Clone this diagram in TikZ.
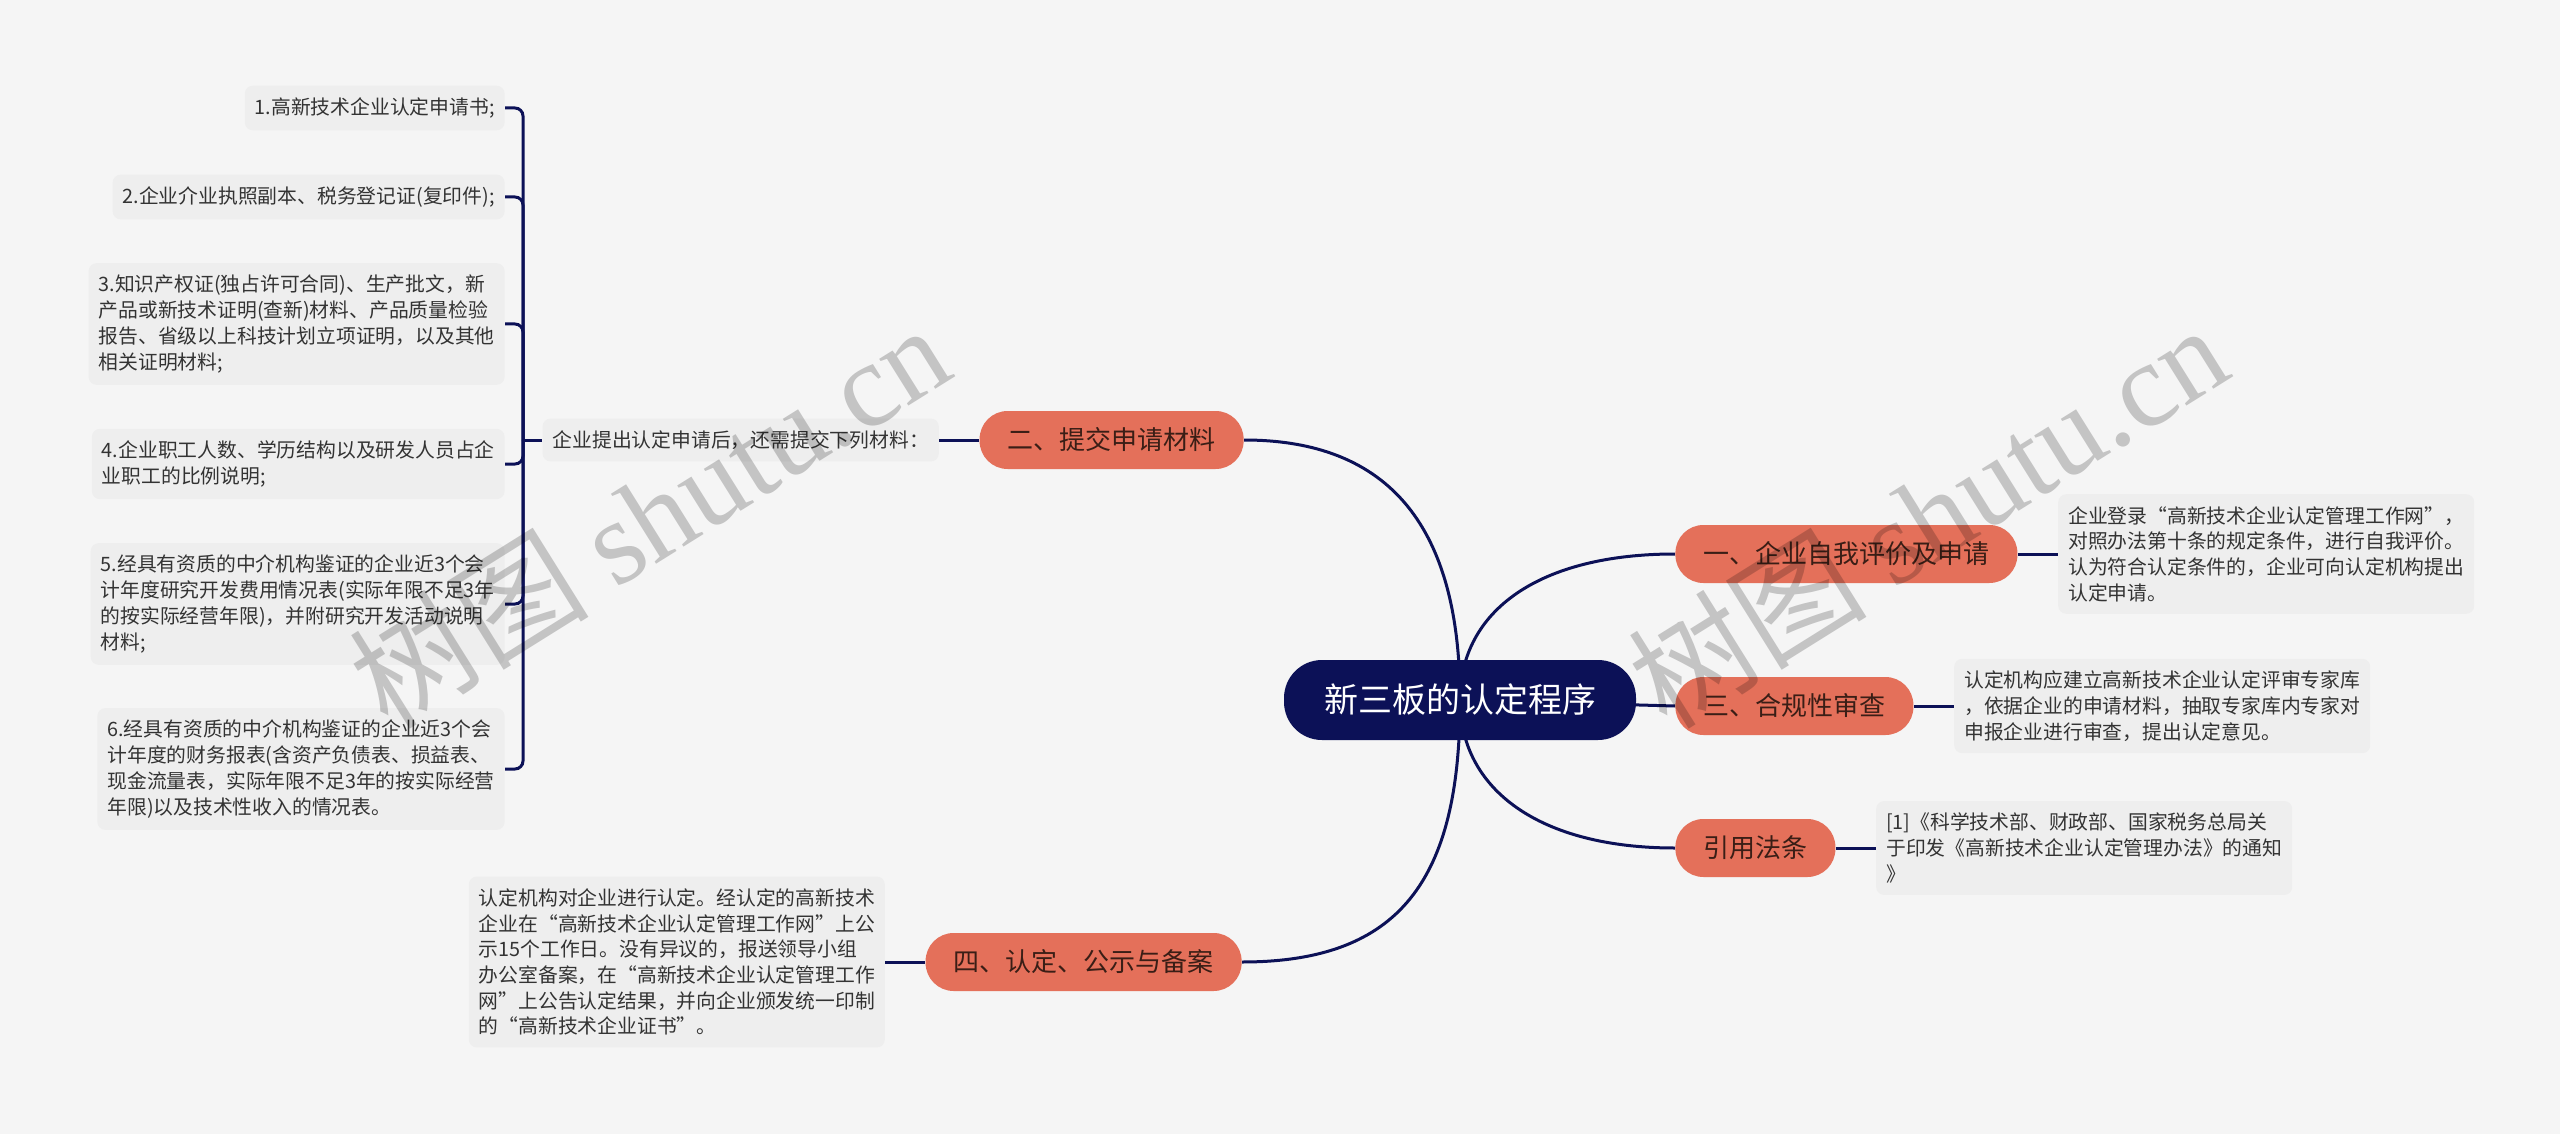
\documentclass[tikz,border=0pt]{standalone}
\usepackage{fontspec}
\setmainfont{Noto Sans CJK SC}
\newfontfamily\wmfont{Liberation Serif}
\usepackage{tikz}
\usetikzlibrary{calc,positioning}
\usepackage{xcolor}
\definecolor{rootblue}{HTML}{0C1157}
\definecolor{salmon}{HTML}{E4705A}
\definecolor{notegray}{HTML}{EEEEEE}
\definecolor{bggray}{HTML}{F5F5F5}
\definecolor{topictext}{HTML}{3A1E16}
\definecolor{darkgray}{HTML}{333333}
\pgfdeclarelayer{background}
\pgfsetlayers{background,main}

\begin{document}
\begin{tikzpicture}[x=0.5pt,y=-0.5pt,
  rootbox/.style={fill=rootblue,text=white,rounded corners=19pt,minimum height=40pt,inner xsep=20pt,font=\fontsize{17}{20}\selectfont},
  topic/.style={fill=salmon,text=topictext,rounded corners=14pt,minimum height=29pt,inner xsep=14pt,font=\fontsize{13}{15}\selectfont},
  note/.style={fill=notegray,text=darkgray,rounded corners=4pt,align=left,inner xsep=5pt,inner ysep=6pt,font=\fontsize{9.9}{12.85}\selectfont},
  conn/.style={draw=rootblue,line width=1.5pt},
  watermark/.style={text=black,opacity=0.2,rotate=32,font=\fontsize{60}{60}\selectfont}]
  \useasboundingbox (0,0) rectangle (2560,1134);
  \begin{pgfonlayer}{background}
    \fill[bggray] (0,0) rectangle (2560,1134);
  \end{pgfonlayer}

  % centre and main topics
  \node[rootbox] (root) at (1460,700) {新三板的认定程序};
  \node[topic,anchor=east] (sub2) at (1244,440) {二、提交申请材料};
  \node[topic,anchor=west] (sub1) at (1675,554) {一、企业自我评价及申请};
  \node[topic,anchor=west] (sub3) at (1675,706) {三、合规性审查};
  \node[topic,anchor=west] (law) at (1675,848) {引用法条};
  \node[topic,anchor=east] (sub4) at (1242,962) {四、认定、公示与备案};

  % notes
  \node[note,right=20pt of sub1] (desc1) {企业登录“高新技术企业认定管理工作网”，\\对照办法第十条的规定条件，进行自我评价。\\认为符合认定条件的，企业可向认定机构提出\\认定申请。};
  \node[note,right=20pt of sub3] (desc3) {认定机构应建立高新技术企业认定评审专家库\\，依据企业的申请材料，抽取专家库内专家对\\申报企业进行审查，提出认定意见。};
  \node[note,right=20pt of law] (desclaw) {[1]《科学技术部、财政部、国家税务总局关\\于印发《高新技术企业认定管理办法》的通知\\》};
  \node[note,left=20pt of sub4] (desc4) {认定机构对企业进行认定。经认定的高新技术\\企业在“高新技术企业认定管理工作网”上公\\示15个工作日。没有异议的，报送领导小组\\办公室备案，在“高新技术企业认定管理工作\\网”上公告认定结果，并向企业颁发统一印制\\的“高新技术企业证书”。};
  \node[note,left=20pt of sub2] (desc2) {企业提出认定申请后，还需提交下列材料：};
  \coordinate (hub) at (523,440);

  % list of materials
  \node[note,anchor=east] (item1) at (505,108) {1.高新技术企业认定申请书;};
  \node[note,anchor=east] (item2) at (505,197) {2.企业介业执照副本、税务登记证(复印件);};
  \node[note,anchor=east] (item3) at (505,324) {3.知识产权证(独占许可合同)、生产批文，新\\产品或新技术证明(查新)材料、产品质量检验\\报告、省级以上科技计划立项证明，以及其他\\相关证明材料;};
  \node[note,anchor=east] (item4) at (505,464) {4.企业职工人数、学历结构以及研发人员占企\\业职工的比例说明;};
  \node[note,anchor=east] (item5) at (505,604) {5.经具有资质的中介机构鉴证的企业近3个会\\计年度研究开发费用情况表(实际年限不足3年\\的按实际经营年限)，并附研究开发活动说明\\材料;};
  \node[note,anchor=east] (item6) at (505,769) {6.经具有资质的中介机构鉴证的企业近3个会\\计年度的财务报表(含资产负债表、损益表、\\现金流量表，实际年限不足3年的按实际经营\\年限)以及技术性收入的情况表。};

  \begin{pgfonlayer}{background}
    \draw[conn] (root.center) .. controls (1460,540) and (1400,440) .. (sub2.east);
    \draw[conn] (root.center) .. controls (1460,610) and (1540,554) .. (sub1.west);
    \draw[conn] (root.center) -- (sub3.west);
    \draw[conn] (root.center) .. controls (1460,790) and (1540,848) .. (law.west);
    \draw[conn] (root.center) .. controls (1460,880) and (1400,962) .. (sub4.east);
    \draw[conn] (sub1.east) -- (desc1.west);
    \draw[conn] (sub3.east) -- (desc3.west);
    \draw[conn] (law.east) -- (desclaw.west);
    \draw[conn] (sub4.west) -- (desc4.east);
    \draw[conn] (sub2.west) -- (desc2.east);
    \draw[conn] (desc2.west) -- (hub);
    \foreach \i in {1,...,6}
      \draw[conn,rounded corners=4pt] (item\i.east) -| (hub);
  \end{pgfonlayer}

  % watermark
  \node[watermark] (wm1) at (649,515) {树图 {\wmfont shutu.cn}};
  \node[watermark] (wm2) at (1927,515) {树图 {\wmfont shutu.cn}};
\end{tikzpicture}
\end{document}
